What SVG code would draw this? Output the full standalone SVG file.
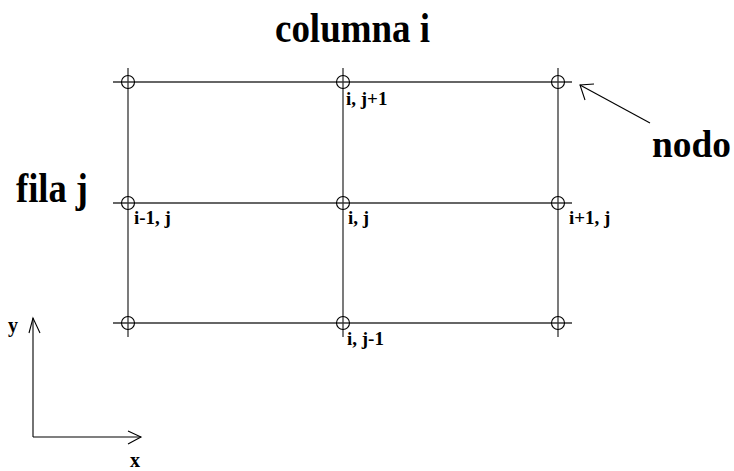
<svg xmlns="http://www.w3.org/2000/svg" width="734" height="471" viewBox="0 0 734 471">
<style>
.grid{stroke:#333;stroke-width:1.3;fill:none}
.node{stroke:#000;stroke-width:1.1;fill:none}
.arr{stroke:#000;stroke-width:1.1;fill:none}
text{font-family:'Liberation Serif','Times New Roman','DejaVu Serif',serif;font-weight:bold;fill:#000}
.big{font-size:42px}
.lbl{font-size:19px}
.ax{font-size:20px}
</style>
<defs>
<g id="nd"><circle r="6.5" class="node"/></g>
</defs>
<rect width="734" height="471" fill="#fff"/>
<g id="connectors">
<line class="grid" x1="113" y1="82" x2="572" y2="82"/>
<line class="grid" x1="113" y1="203" x2="572" y2="203"/>
<line class="grid" x1="113" y1="323" x2="572" y2="323"/>
<line class="grid" x1="128" y1="68" x2="128" y2="337"/>
<line class="grid" x1="343" y1="68" x2="343" y2="337"/>
<line class="grid" x1="558" y1="68" x2="558" y2="337"/>
<line class="arr" x1="650" y1="123" x2="580" y2="85"/>
<polyline class="arr" points="594,84 580,85 585,100"/>
<line class="arr" x1="33" y1="318" x2="33" y2="437"/>
<polyline class="arr" points="29,333 33,318 40,333"/>
<line class="arr" x1="33" y1="437" x2="141" y2="437"/>
<polyline class="arr" points="128,431 141,437 128,444"/>
</g>
<g id="n-0-0"><use href="#nd" x="128" y="82"/></g>
<g id="n-1-0"><use href="#nd" x="343" y="82"/><text class="lbl" x="346" y="105">i, j+1</text></g>
<g id="n-2-0"><use href="#nd" x="558" y="82"/></g>
<g id="n-0-1"><use href="#nd" x="128" y="203"/><text class="lbl" x="134" y="224">i-1, j</text></g>
<g id="n-1-1"><use href="#nd" x="343" y="203"/><text class="lbl" x="348" y="224">i, j</text></g>
<g id="n-2-1"><use href="#nd" x="558" y="203"/><text class="lbl" x="569" y="224">i+1, j</text></g>
<g id="n-0-2"><use href="#nd" x="128" y="323"/></g>
<g id="n-1-2"><use href="#nd" x="343" y="323"/><text class="lbl" x="347" y="345">i, j-1</text></g>
<g id="n-2-2"><use href="#nd" x="558" y="323"/></g>
<g id="titles">
<text class="big" x="275" y="42" textLength="155" lengthAdjust="spacingAndGlyphs">columna i</text>
<text class="big" x="16" y="202" textLength="72" lengthAdjust="spacingAndGlyphs">fila j</text>
<text class="big" x="652" y="157" style="font-size:38px" textLength="79" lengthAdjust="spacingAndGlyphs">nodo</text>
<text class="ax" x="8" y="332">y</text>
<text class="ax" x="130" y="467">x</text>
</g>
</svg>
